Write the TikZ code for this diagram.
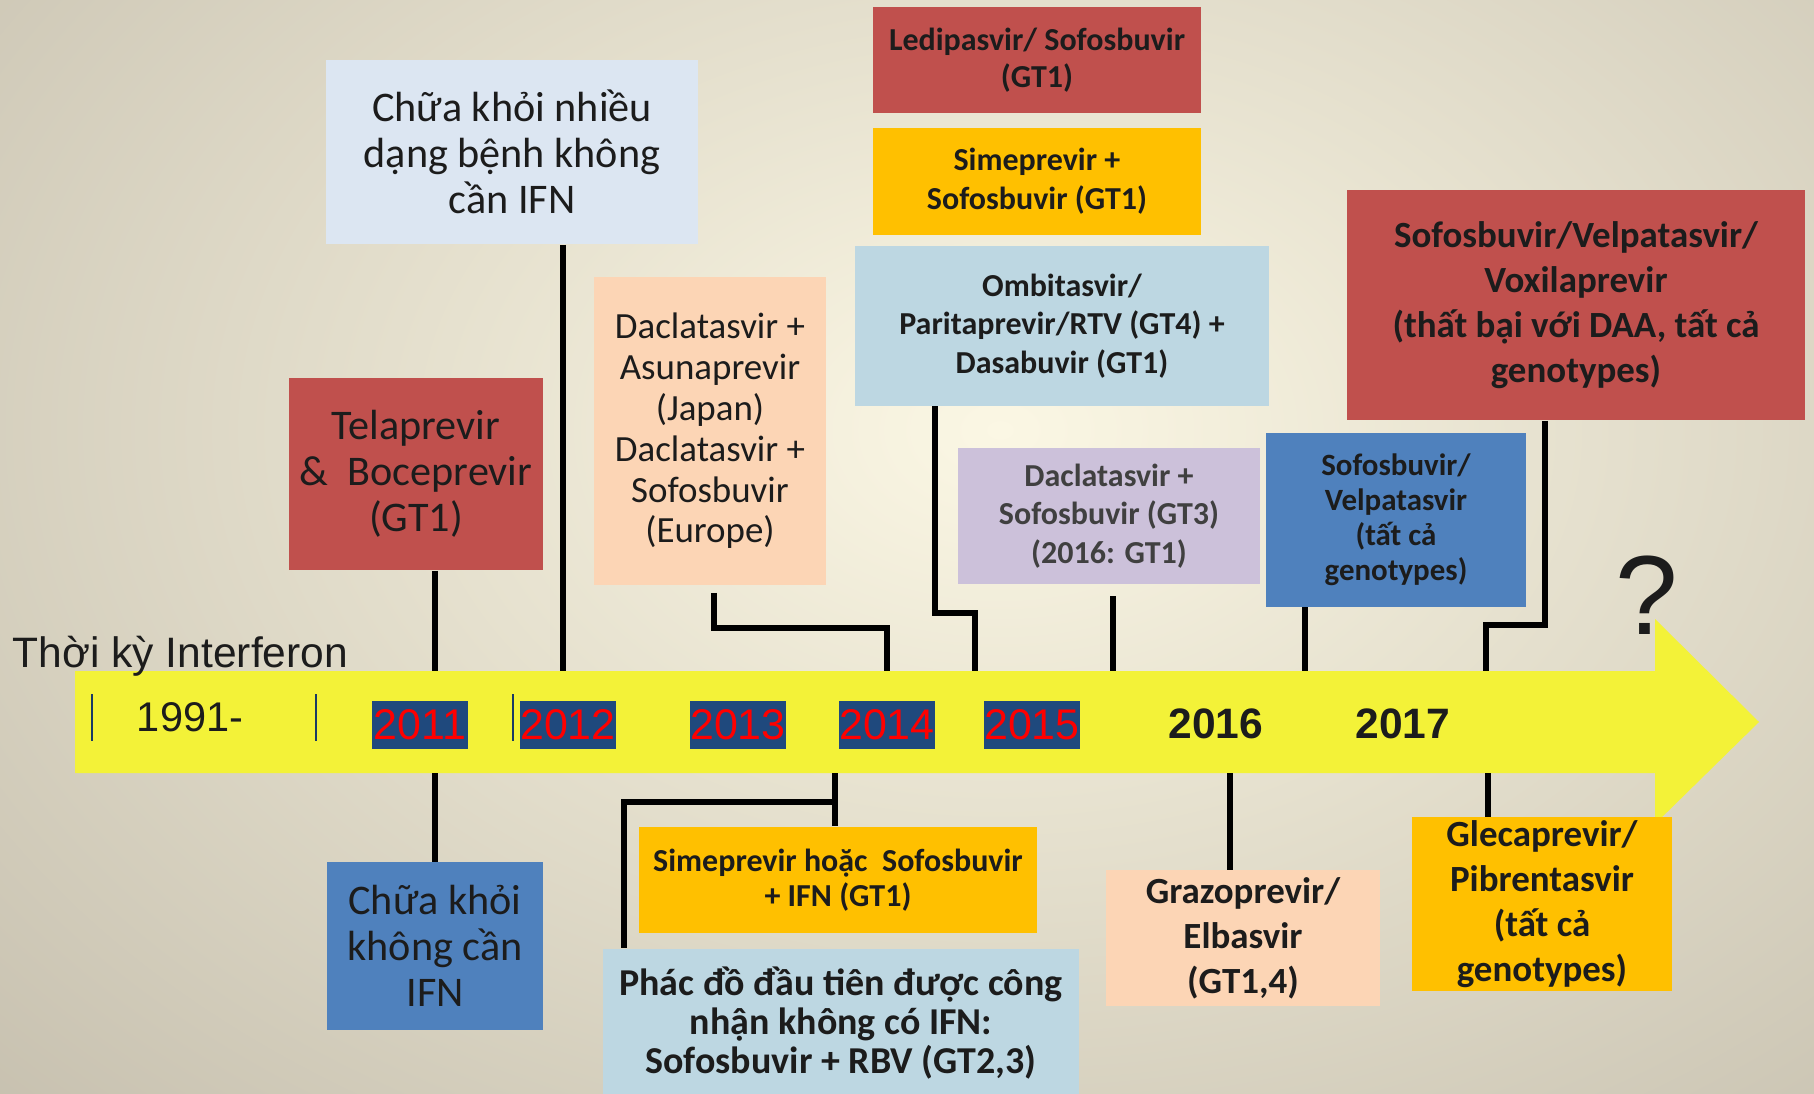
\documentclass[tikz,border=0pt]{standalone}
\usepackage{fontspec}
\setmainfont{Carlito}
\newfontfamily\arialfont{Liberation Sans}
\usetikzlibrary{positioning}
\definecolor{bgcream}{RGB}{251,247,228}
\definecolor{bggrey}{RGB}{166,158,142}
\definecolor{axisyel}{RGB}{243,242,56}
\definecolor{yearnavy}{RGB}{31,73,125}
\definecolor{boxred}{RGB}{192,80,77}
\definecolor{boxgold}{RGB}{255,192,0}
\definecolor{boxblue}{RGB}{79,129,189}
\definecolor{boxsky}{RGB}{189,215,226}
\definecolor{boxpale}{RGB}{220,230,242}
\definecolor{boxpeach}{RGB}{252,213,181}
\definecolor{boxlilac}{RGB}{204,193,218}
\definecolor{txtdark}{RGB}{28,28,28}

\begin{document}
\begin{tikzpicture}[x=0.01cm, y=-0.01cm,
  drug/.style={inner sep=0pt, align=center, text=txtdark},
  plain12/.style={font=\fontsize{12}{13.1}\selectfont},
  plain10/.style={font=\fontsize{10.5}{11.6}\selectfont},
  bold9/.style={font=\bfseries\fontsize{9.1}{11}\selectfont},
  bold10/.style={font=\bfseries\fontsize{10.5}{12.8}\selectfont},
  yearbox/.style={fill=yearnavy, text=red, inner sep=0pt, minimum width=0.95cm, minimum height=0.47cm, font=\arialfont\fontsize{12.2}{13}\selectfont},
  yearlbl/.style={text=txtdark, inner sep=0pt, anchor=base, font=\arialfont\bfseries\fontsize{12.1}{14}\selectfont},
  link/.style={line width=1.5pt, black},
  tick/.style={line width=0.5pt, yearnavy!80!black}]
  \useasboundingbox (0,0) rectangle (1814,1094);
  \begin{scope}
    \clip (0,0) rectangle (1814,1094);
    \shade[inner color=bgcream, outer color=bggrey] (-1300,-1170) rectangle (3300,2030);
  \end{scope}
  \fill[axisyel] (75,671) -- (1655,671) -- (1655,619) -- (1759,722) -- (1655,824) -- (1655,773) -- (75,773) -- cycle;
  \coordinate (bandtop) at (0,671);
  \coordinate (bandbot) at (0,773);

  \draw[tick] (92,694) -- (92,741);
  \draw[tick] (316,694) -- (316,741);
  \draw[tick] (513,694) -- (513,741);
  \node[anchor=base, text=txtdark, inner sep=0pt, font=\arialfont\fontsize{11.8}{14}\selectfont] (y1991) at (190,731) {1991-};
  \node[yearbox] (y2011) at (420,725) {2011};
  \node[yearbox] (y2012) at (568,725) {2012};
  \node[yearbox] (y2013) at (738,725) {2013};
  \node[yearbox] (y2014) at (887,725) {2014};
  \node[yearbox] (y2015) at (1032,725) {2015};
  \node[yearlbl] (y2016) at (1216,738) {2016};
  \node[yearlbl] (y2017) at (1403,738) {2017};
  \node[anchor=base west, inner sep=0pt, text=txtdark, font=\arialfont\fontsize{12.1}{14}\selectfont] (era) at (12,667) {Thời kỳ Interferon};
  \node[anchor=base, inner sep=0pt, text=txtdark, font=\arialfont\fontsize{32}{36}\selectfont] (unknown) at (1647,634) {?};

  \node[drug, plain12, fill=boxpale, minimum width=3.71cm, minimum height=1.84cm] (cureMany) at (512,152) {Chữa khỏi nhiều\\dạng bệnh không\\cần IFN};
  \node[drug, plain12, fill=boxred, minimum width=2.53cm, minimum height=1.92cm] (tela) at (416,474) {Telaprevir\\\&\ \ Boceprevir\\(GT1)};
  \node[drug, plain10, fill=boxpeach, minimum width=2.31cm, minimum height=3.08cm] (dacJapan) at (710,431) {Daclatasvir +\\Asunaprevir\\(Japan)\\Daclatasvir +\\Sofosbuvir\\(Europe)};
  \node[drug, font=\bfseries\fontsize{9.1}{10.5}\selectfont, fill=boxred, minimum width=3.28cm, minimum height=1.06cm] (ledi) at (1037,60) {Ledipasvir/ Sofosbuvir\\(GT1)};
  \node[drug, bold9, fill=boxgold, minimum width=3.28cm, minimum height=1.06cm, below=0.14cm of ledi] (simSof) {Simeprevir +\\Sofosbuvir (GT1)};
  \node[drug, bold9, fill=boxsky, minimum width=4.13cm, minimum height=1.59cm] (ombi) at (1062,326) {Ombitasvir/\\Paritaprevir/RTV (GT4) +\\Dasabuvir (GT1)};
  \node[drug, bold9, text=black!75, fill=boxlilac, minimum width=3.02cm, minimum height=1.35cm] (dacSof) at (1109,516) {Daclatasvir +\\Sofosbuvir (GT3)\\(2016: GT1)};
  \node[drug, bold10, fill=boxred, minimum width=4.58cm, minimum height=2.30cm] (sofVelVox) at (1576,305) {Sofosbuvir/Velpatasvir/\\Voxilaprevir\\(thất bại với DAA, tất cả\\genotypes)};
  \node[drug, font=\bfseries\fontsize{8.8}{10}\selectfont, fill=boxblue, minimum width=2.59cm, minimum height=1.73cm] (sofVel) at (1396,520) {Sofosbuvir/\\Velpatasvir\\(tất cả\\genotypes)};

  \node[drug, plain12, fill=boxblue, minimum width=2.16cm, minimum height=1.67cm] (cureNo) at (435,946) {Chữa khỏi\\không cần\\IFN};
  \node[drug, font=\bfseries\fontsize{9.1}{10}\selectfont, fill=boxgold, minimum width=3.97cm, minimum height=1.06cm] (simIFN) at (838,880) {Simeprevir hoặc\ \ Sofosbuvir\\+ IFN (GT1)};
  \node[drug, font=\bfseries\fontsize{10.8}{11.2}\selectfont, fill=boxsky, minimum width=4.75cm, minimum height=1.48cm] (firstReg) at (841,1023) {Phác đồ đầu tiên được công\\nhận không có IFN:\\Sofosbuvir + RBV (GT2,3)};
  \node[drug, bold10, fill=boxpeach, minimum width=2.74cm, minimum height=1.35cm] (grazo) at (1243,938) {Grazoprevir/\\Elbasvir\\(GT1,4)};
  \node[drug, bold10, fill=boxgold, minimum width=2.60cm, minimum height=1.73cm] (gleca) at (1542,904) {Glecaprevir/\\Pibrentasvir\\(tất cả\\genotypes)};

  \draw[link] (tela.south -| 435,0) -- (bandtop -| 435,0);
  \draw[link] (cureMany.south -| 563,0) -- (bandtop -| 563,0);
  \draw[link] (dacJapan.south -| 714,0) ++(0,7) -- (714,628) -| (bandtop -| 887,0);
  \draw[link] (ombi.south -| 935,0) -- (935,613) -| (bandtop -| 975,0);
  \draw[link] (dacSof.south -| 1113,0) ++(0,12) -- (bandtop -| 1113,0);
  \draw[link] (sofVel.south -| 1305,0) -- (bandtop -| 1305,0);
  \draw[link] (sofVelVox.south -| 1545,0) -- (1545,625) -| (bandtop -| 1486,0);
  \draw[link] (bandbot -| 435,0) -- (cureNo.north);
  \draw[link] (bandbot -| 835,0) -- (simIFN.north -| 835,0);
  \draw[link] (835,802) -| (firstReg.north -| 624,0);
  \draw[link] (bandbot -| 1230,0) -- (grazo.north -| 1230,0);
  \draw[link] (bandbot -| 1488,0) -- (gleca.north -| 1488,0);
\end{tikzpicture}
\end{document}
